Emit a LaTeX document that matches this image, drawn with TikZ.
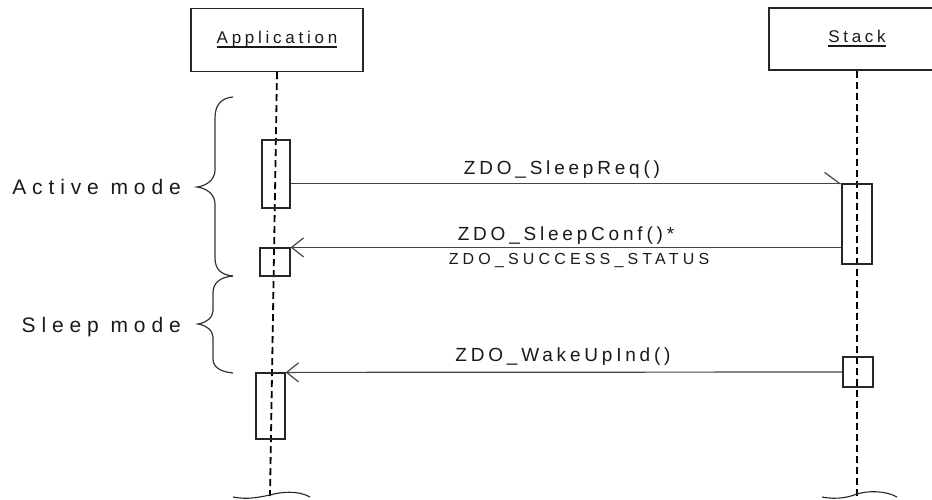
\documentclass[tikz,border=0pt]{standalone}
\usepackage{fontspec}
\setmainfont{Liberation Sans}
\newfontfamily\lsfont[LetterSpace=20]{Liberation Sans}
\newfontfamily\lssmall[LetterSpace=26]{Liberation Sans}
\newfontfamily\lswide[LetterSpace=28]{Liberation Sans}
\newfontfamily\lshead[LetterSpace=22]{Liberation Sans}
\usetikzlibrary{arrows.meta}
\newcommand\thickul[1]{\setbox0\hbox{#1}\rlap{\rule[-4.5pt]{\wd0}{2pt}}\box0}
\definecolor{ink}{HTML}{1A1A1A}
\definecolor{msgc}{HTML}{444444}
\begin{document}
\begin{tikzpicture}[x=1pt,y=-1pt,
  head/.style={draw=black!85, line width=1.3pt, inner sep=0pt, text=ink,
    font=\fontsize{17}{20}\lshead},
  actbox/.style={draw=black!85, line width=1.2pt, inner sep=0pt},
  lifeline/.style={draw=black, line width=1.8pt, dash pattern=on 7pt off 4pt},
  msg/.style={draw=msgc, line width=1.2pt},
  barb/.style={-{Straight Barb[length=12pt,width=19pt,line width=1.2pt]}},
  halfbarb/.style={-{Straight Barb[harpoon,length=15pt,width=22pt,line width=1.2pt]}},
  lbl/.style={text=ink, inner sep=0pt, font=\fontsize{19}{22}\lsfont},
  small/.style={text=ink, inner sep=0pt, font=\fontsize{16}{19}\lssmall},
  modelbl/.style={text=ink, inner sep=0pt, font=\fontsize{21}{25}\lswide},
  brace/.style={draw=black!80, line width=1.2pt},
  brk/.style={draw=black!85, line width=1.1pt}]
\useasboundingbox (0,0) rectangle (932,499);
\clip (0,0) rectangle (932,499);
\fill[white] (0,0) rectangle (932,499);

% lifeline heads
\node[head, minimum width=172pt, minimum height=63pt] (appH) at (277,40) {\thickul{Application}};
\node[head, minimum width=176pt, minimum height=62pt] (stkH) at (857,39) {\thickul{Stack}};

% lifelines
\coordinate (appEnd) at (270,496);
\coordinate (stkEnd) at (857,496);
\draw[lifeline] (appH.south) -- (appEnd);
\draw[lifeline] (stkH.south) -- (stkEnd);

% activation boxes
\node[actbox, minimum width=28pt, minimum height=68pt] (a1) at (276,174) {};
\node[actbox, minimum width=30pt, minimum height=28pt] (a2) at (275,262) {};
\node[actbox, minimum width=29pt, minimum height=66pt] (a3) at (270.5,406) {};
\node[actbox, minimum width=30pt, minimum height=80pt] (s1) at (857,224) {};
\node[actbox, minimum width=30pt, minimum height=30pt] (s2) at (858,372) {};

% messages
\draw[msg, halfbarb] (a1.east |- s1.north) -- (s1.north west);
\draw[msg, barb] (s1.west |- a2.north) -- (a2.north east);
\draw[msg, barb] (s2.west) -- (a3.north east);

\node[lbl, anchor=base] (m1) at (562,174) {ZDO\_SleepReq()};
\node[lbl, anchor=base] (m2) at (566,240) {ZDO\_SleepConf()*};
\node[small, anchor=base] (m2b) at (579,264) {ZDO\_SUCCESS\_STATUS};
\node[lbl, anchor=base] (m3) at (563,361) {ZDO\_WakeUpInd()};

% braces
\draw[brace] (233,97) .. controls (221,98) and (215,105) .. (215,118) -- (215,170)
  .. controls (215,180) and (206,186) .. (197,187)
  .. controls (206,188) and (215,194) .. (215,204) -- (215,258)
  .. controls (215,270) and (222,275) .. (233,276);
\draw[brace] (233,276) .. controls (220,277) and (213,283) .. (213,293) -- (213,311)
  .. controls (213,318) and (205,323) .. (198,324)
  .. controls (205,325) and (213,330) .. (213,337) -- (213,359)
  .. controls (213,368) and (222,372) .. (233,373);
\node[modelbl, anchor=base east] (actm) at (181,194) {Active mode};
\node[modelbl, anchor=base east] (slpm) at (181,332) {Sleep mode};

% break marks
\draw[brk] (233,497) .. controls (248,500) and (260,497) .. (270,495)
  .. controls (280,492) and (298,490) .. (310,497);
\draw[brk] (822,497) .. controls (838,500) and (849,497) .. (857,494)
  .. controls (866,491) and (885,490) .. (897,497);
\end{tikzpicture}
\end{document}
